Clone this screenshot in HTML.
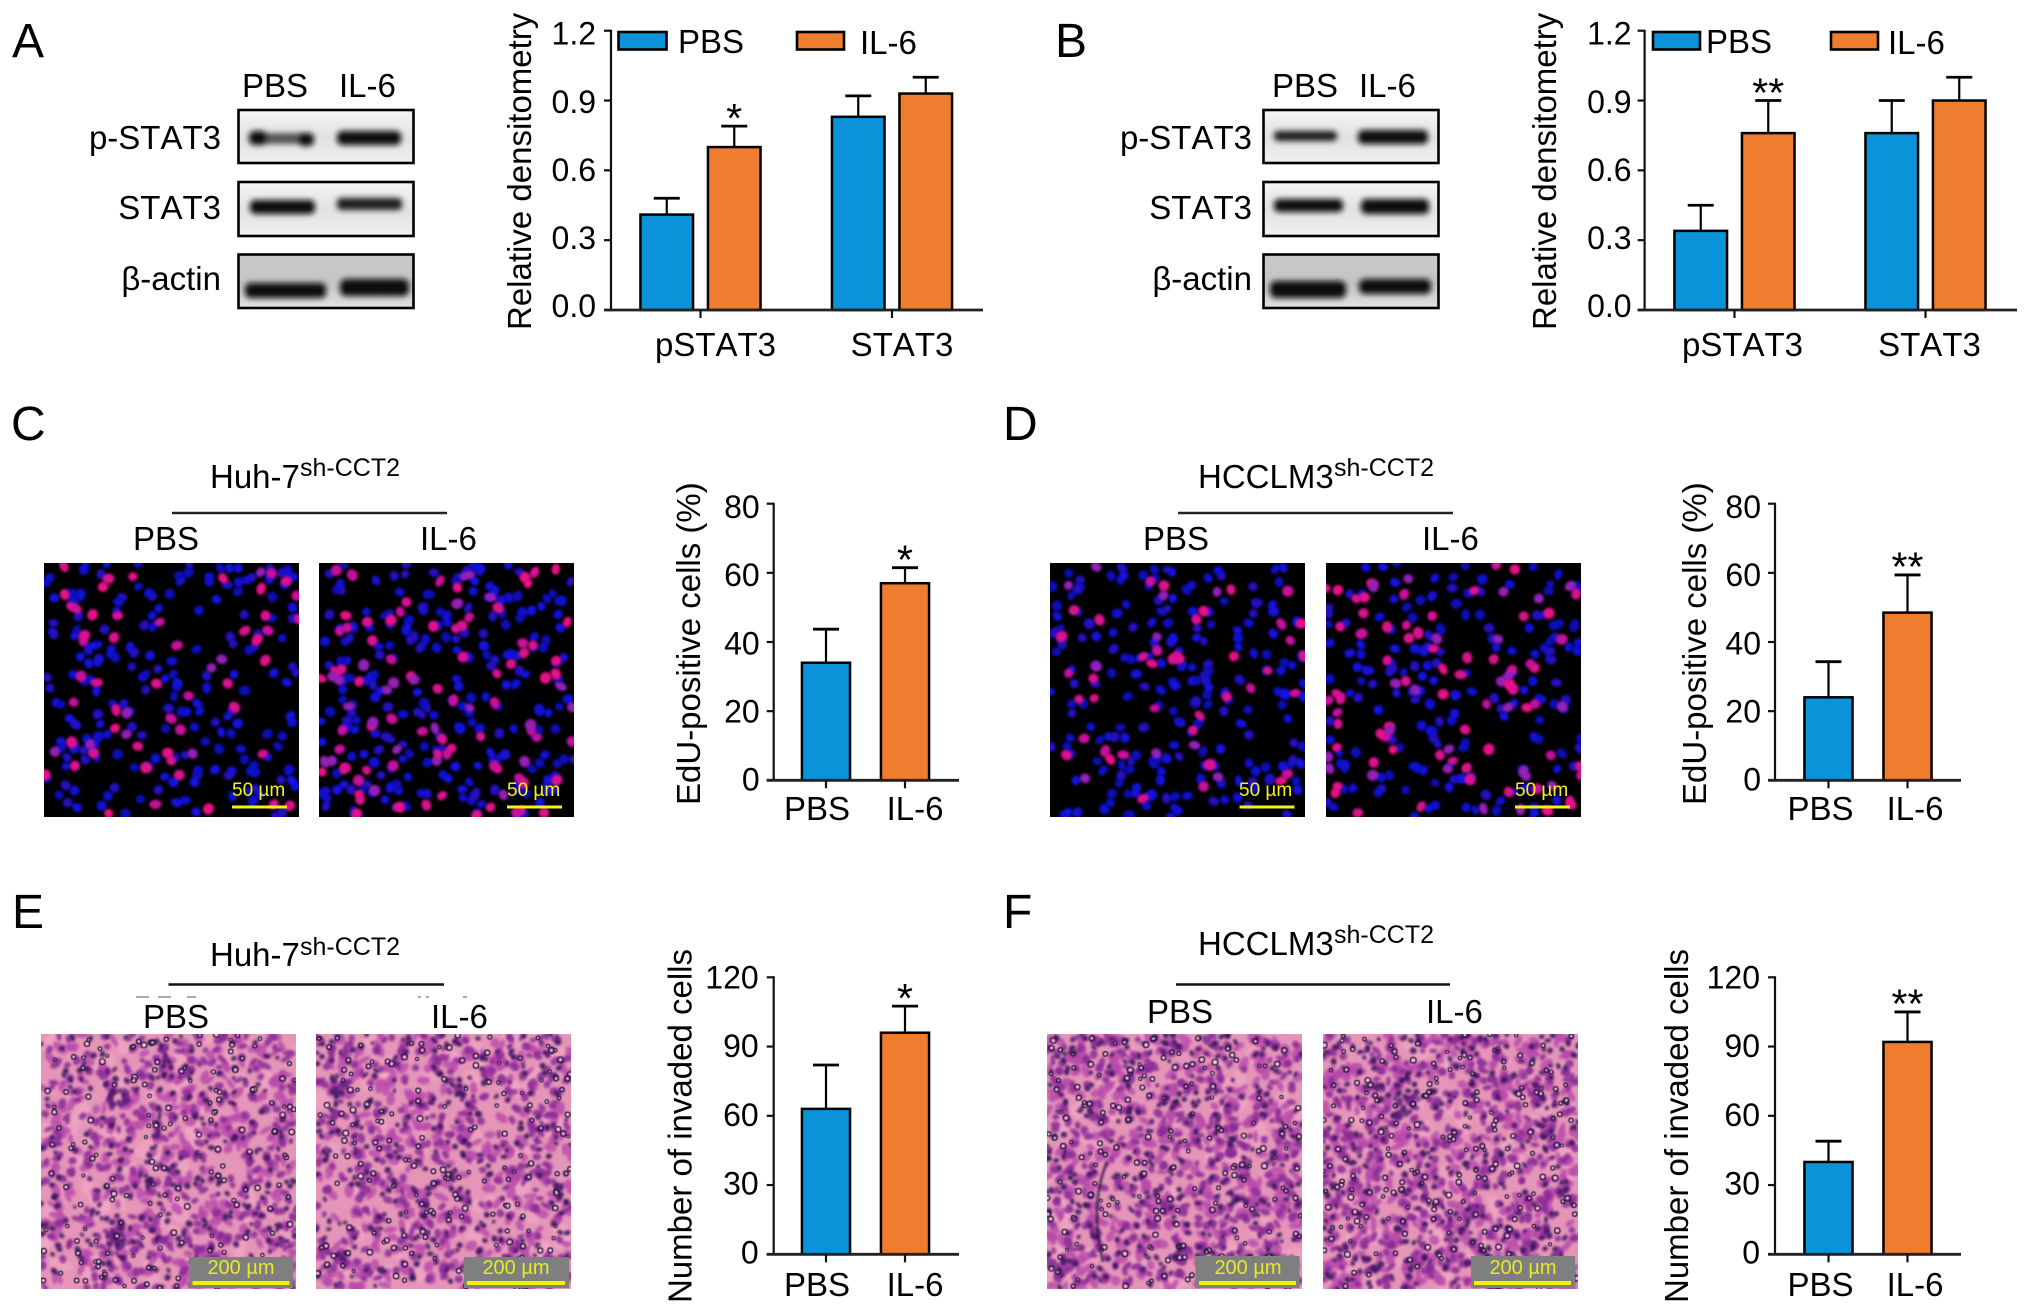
<!DOCTYPE html>
<html lang="en">
<head>
<meta charset="utf-8">
<title>IL-6 western blot, EdU and invasion panels</title>
<style>
html,body{margin:0;padding:0;background:#fff;width:2032px;height:1315px;overflow:hidden}
#stage{position:relative;width:2032px;height:1315px}
canvas{position:absolute;display:block}
svg{position:absolute;left:0;top:0}
text{font-family:"Liberation Sans",Arial,sans-serif;fill:#000;font-size:33px;font-kerning:none}
.letter{font-size:48px}
.sup{font-size:25px}
.scale{font-size:19px;fill:#f4f21a}
.scale2{font-size:20px;fill:#e8e82a}
.blot{stroke:#000;stroke-width:2.6}
.band{fill:#0c0c0c}
</style>
</head>
<body>
<div id="stage">
<canvas class="fluor" data-seed="11" data-blue="200" data-mag="60" width="255" height="254" style="left:44px;top:563px"></canvas>
<canvas class="fluor" data-seed="23" data-blue="235" data-mag="100" width="255" height="254" style="left:319px;top:563px"></canvas>
<canvas class="fluor" data-seed="37" data-blue="210" data-mag="52" width="255" height="254" style="left:1050px;top:563px"></canvas>
<canvas class="fluor" data-seed="41" data-blue="170" data-mag="92" width="255" height="254" style="left:1326px;top:563px"></canvas>
<canvas class="histo" data-seed="53" data-dark="1" width="255" height="255" style="left:41px;top:1034px"></canvas>
<canvas class="histo" data-seed="67" data-dark="1.05" width="255" height="255" style="left:316px;top:1034px"></canvas>
<canvas class="histo" data-seed="71" data-dark="1.2" width="255" height="255" style="left:1047px;top:1034px"></canvas>
<canvas class="histo" data-seed="83" data-dark="1.3" width="255" height="255" style="left:1323px;top:1034px"></canvas>

<svg id="fig" width="2032" height="1315" viewBox="0 0 2032 1315" xmlns="http://www.w3.org/2000/svg">
<defs>
<filter id="soft" x="-30%" y="-100%" width="160%" height="300%"><feGaussianBlur stdDeviation="2.9"/></filter>
<linearGradient id="bgLight" x1="0" y1="0" x2="0" y2="1"><stop offset="0" stop-color="#f6f6f6"/><stop offset="0.5" stop-color="#e2e2e2"/><stop offset="1" stop-color="#f0f0f0"/></linearGradient>
<linearGradient id="bgGray" x1="0" y1="0" x2="0" y2="1"><stop offset="0" stop-color="#cacaca"/><stop offset="0.55" stop-color="#c4c4c4"/><stop offset="1" stop-color="#e2e2e2"/></linearGradient>
</defs>

<text class="letter" x="12" y="57">A</text>
<text class="letter" x="1055" y="57">B</text>
<text class="letter" x="11" y="440">C</text>
<text class="letter" x="1003" y="440">D</text>
<text class="letter" x="12" y="928">E</text>
<text class="letter" x="1003" y="928">F</text>

<g>
<text x="242" y="97">PBS</text>
<text x="339" y="97">IL-6</text>
<text x="221" y="149" text-anchor="end">p-STAT3</text>
<text x="221" y="219" text-anchor="end">STAT3</text>
<text x="221" y="290" text-anchor="end">β-actin</text>
<g>
<rect class="blot" x="238.5" y="110" width="175" height="53" fill="url(#bgLight)"/>
<g filter="url(#soft)">
<rect x="258" y="133" width="46" height="11" fill="#555"/><rect class="band" x="249" y="131" width="18" height="14" rx="5"/><rect class="band" x="298" y="133" width="16" height="13" rx="5"/>
<rect class="band" x="337" y="131" width="64" height="14" rx="5"/></g></g>
<g>
<rect class="blot" x="238.5" y="182" width="175" height="54" fill="url(#bgLight)"/>
<g filter="url(#soft)">
<rect class="band" x="250" y="200" width="65" height="14" rx="5"/>
<rect x="337" y="198" width="65" height="12" rx="4" fill="#1c1c1c"/></g></g>
<g>
<rect class="blot" x="238.5" y="254.5" width="175" height="53.5" fill="url(#bgGray)"/>
<g filter="url(#soft)">
<rect class="band" x="245" y="283" width="81" height="15" rx="5"/>
<rect class="band" x="340" y="279" width="69" height="17" rx="6"/></g></g>
</g>

<g>
<text x="1272" y="97">PBS</text>
<text x="1359" y="97">IL-6</text>
<text x="1252" y="149" text-anchor="end">p-STAT3</text>
<text x="1252" y="219" text-anchor="end">STAT3</text>
<text x="1252" y="290" text-anchor="end">β-actin</text>
<g>
<rect class="blot" x="1263.5" y="110" width="175" height="53" fill="url(#bgLight)"/>
<g filter="url(#soft)">
<rect x="1274" y="131" width="63" height="10" rx="4" fill="#1c1c1c"/>
<rect class="band" x="1358" y="130" width="70" height="14" rx="5"/></g></g>
<g>
<rect class="blot" x="1263.5" y="182" width="175" height="54" fill="url(#bgLight)"/>
<g filter="url(#soft)">
<rect class="band" x="1274" y="199" width="69" height="13" rx="5"/>
<rect class="band" x="1361" y="199" width="68" height="15" rx="5"/></g></g>
<g>
<rect class="blot" x="1263.5" y="254.5" width="175" height="53.5" fill="url(#bgGray)"/>
<g filter="url(#soft)">
<rect class="band" x="1270" y="281" width="76" height="17" rx="6"/>
<rect class="band" x="1359" y="279" width="72" height="15" rx="6"/></g></g>
</g>

<g>
<rect x="618.5" y="32" width="48" height="17.5" fill="#0a93d8" stroke="#000" stroke-width="2.6"/>
<text x="678" y="53">PBS</text>
<rect x="797" y="32" width="47" height="17.5" fill="#ef7d2f" stroke="#000" stroke-width="2.6"/>
<text x="860" y="54">IL-6</text>
</g>
<g>
<rect x="1653" y="32" width="47" height="17.5" fill="#0a93d8" stroke="#000" stroke-width="2.6"/>
<text x="1706" y="53">PBS</text>
<rect x="1831" y="32" width="47" height="17.5" fill="#ef7d2f" stroke="#000" stroke-width="2.6"/>
<text x="1888" y="54">IL-6</text>
</g>

<g>
<text x="210" y="488">Huh-7</text>
<text class="sup" x="300" y="476">sh-CCT2</text>
<line x1="172" y1="513" x2="447" y2="513" stroke="#222" stroke-width="2.6"/>
<text x="133" y="550">PBS</text>
<text x="420" y="550">IL-6</text>
</g>
<g>
<text x="1198" y="488">HCCLM3</text>
<text class="sup" x="1334" y="476">sh-CCT2</text>
<line x1="1178" y1="513" x2="1453" y2="513" stroke="#222" stroke-width="2.6"/>
<text x="1143" y="550">PBS</text>
<text x="1422" y="550">IL-6</text>
</g>
<g>
<text x="210" y="966">Huh-7</text>
<text class="sup" x="300" y="955">sh-CCT2</text>
<line x1="168.5" y1="984.5" x2="444" y2="984.5" stroke="#111" stroke-width="2.6"/>
<g fill="#aaa"><rect x="136" y="996" width="13" height="2"/><rect x="158" y="996" width="13" height="2"/><rect x="187" y="996" width="9" height="2"/><rect x="418" y="996" width="3" height="2"/><rect x="426" y="996" width="3" height="2"/><rect x="463" y="996" width="4" height="2"/></g>
<text x="143" y="1028">PBS</text>
<text x="431" y="1028">IL-6</text>
</g>
<g>
<text x="1198" y="955">HCCLM3</text>
<text class="sup" x="1334" y="943">sh-CCT2</text>
<line x1="1176" y1="984.5" x2="1450" y2="984.5" stroke="#111" stroke-width="2.6"/>
<text x="1147" y="1023">PBS</text>
<text x="1426" y="1023">IL-6</text>
</g>

<g>
<text class="scale" x="232" y="796">50 µm</text><rect x="232" y="805.5" width="55" height="3" fill="#f4f21a"/>
<text class="scale" x="507" y="796">50 µm</text><rect x="507" y="805.5" width="55" height="3" fill="#f4f21a"/>
<text class="scale" x="1239" y="796">50 µm</text><rect x="1239.5" y="805.5" width="55" height="3" fill="#f4f21a"/>
<text class="scale" x="1515" y="796">50 µm</text><rect x="1515" y="805.5" width="55" height="3" fill="#f4f21a"/>
</g>
<g>
<rect x="189" y="1257" width="104" height="31" fill="#7f7f7f"/><text class="scale2" x="241" y="1274" text-anchor="middle">200 µm</text><rect x="192.5" y="1281" width="97" height="4" fill="#f0f000"/>
<rect x="464" y="1257" width="105" height="31" fill="#7f7f7f"/><text class="scale2" x="516" y="1274" text-anchor="middle">200 µm</text><rect x="467" y="1281" width="98" height="4" fill="#f0f000"/>
<rect x="1195.5" y="1256" width="104" height="32" fill="#7f7f7f"/><text class="scale2" x="1248" y="1274" text-anchor="middle">200 µm</text><rect x="1199" y="1281" width="97" height="4" fill="#f0f000"/>
<rect x="1471" y="1256" width="104" height="32" fill="#7f7f7f"/><text class="scale2" x="1523" y="1274" text-anchor="middle">200 µm</text><rect x="1474" y="1281" width="97" height="4" fill="#f0f000"/>
</g>
<g id="charts"></g>
</svg>
</div>

<script>
// ---- Chart data ----
const densityTicks = [0, 0.3, 0.6, 0.9, 1.2];
const densityTickLabels = ['0.0', '0.3', '0.6', '0.9', '1.2'];
const eduTicks = [0, 20, 40, 60, 80];
const eduTickLabels = ['0', '20', '40', '60', '80'];
const invadedTicks = [0, 30, 60, 90, 120];
const invadedTickLabels = ['0', '30', '60', '90', '120'];

const categoriesA = ['pSTAT3', 'STAT3'];
const pbsA = [0.41, 0.83];
const il6A = [0.70, 0.93];
const pbsUpperA = [0.48, 0.92];
const il6UpperA = [0.79, 1.00];
const il6StarsA = ['*', ''];

const categoriesB = ['pSTAT3', 'STAT3'];
const pbsB = [0.34, 0.76];
const il6B = [0.76, 0.90];
const pbsUpperB = [0.45, 0.90];
const il6UpperB = [0.90, 1.00];
const il6StarsB = ['**', ''];

const categoriesC = ['PBS', 'IL-6'];
const valuesC = [34, 57];
const upperC = [43.7, 61.5];
const starsC = ['', '*'];

const categoriesD = ['PBS', 'IL-6'];
const valuesD = [24, 48.5];
const upperD = [34.3, 59.4];
const starsD = ['', '**'];

const categoriesE = ['PBS', 'IL-6'];
const valuesE = [63, 96];
const upperE = [82, 107.5];
const starsE = ['', '*'];

const categoriesF = ['PBS', 'IL-6'];
const valuesF = [40, 92];
const upperF = [49, 105];
const starsF = ['', '**'];

const BLUE = '#0a93d8';
const ORANGE = '#ef7d2f';
const NS = 'http://www.w3.org/2000/svg';
const chartsRoot = document.getElementById('charts');

function mk(parent, tag, attrs, txt) {
  const el = document.createElementNS(NS, tag);
  for (const k in attrs) el.setAttribute(k, attrs[k]);
  if (txt !== undefined) el.textContent = txt;
  parent.appendChild(el);
  return el;
}

function drawChart(c) {
  const g = mk(chartsRoot, 'g', {});
  
  

  const yScale = v => c.yBase - (v / c.ticks[c.ticks.length - 1]) * (c.yBase - c.yTop);
  const xScale = i => c.x0 + c.step * i;
  const n = c.series.length;

  // bars and error bars
  c.categories.forEach((cat, i) => {
    c.series.forEach((s, j) => {
      const cx = xScale(i) + (j - (n - 1) / 2) * c.barStep;
      const yv = yScale(s.values[i]);
      const yu = yScale(s.upper[i]);
      const color = s.colors[i];
      const errLine = mk(g, 'line', {x1: cx, x2: cx, y1: yv, y2: yu, stroke: '#000', 'stroke-width': 2.2});
      
      
      const cap = mk(g, 'line', {x1: cx - 13, x2: cx + 13, y1: yu, y2: yu, stroke: '#000', 'stroke-width': 2.8});
      
      
      const bar = mk(g, 'rect', {x: cx - c.barW / 2 + 1.2, y: yv, width: c.barW - 2.4, height: c.yBase - yv, fill: color, stroke: '#000', 'stroke-width': 2.5});
      
      
      if (s.stars[i]) {
        const star = mk(g, 'text', {x: cx, y: yu - 18 + 0.58 * 41, 'text-anchor': 'middle', style: 'font-size:41px'}, s.stars[i]);
        
        
      }
    });
  });

  // y axis
  const yAxis = mk(g, 'line', {x1: c.axisX, x2: c.axisX, y1: c.yTop - 1, y2: c.yBase, stroke: '#111', 'stroke-width': 2.2});
  
  
  c.ticks.forEach((t, i) => {
    const y = yScale(t);
    const tick = mk(g, 'line', {x1: c.axisX - 7, x2: c.axisX, y1: y, y2: y, stroke: '#111', 'stroke-width': 2.2});
    
    
    const f = i / (c.ticks.length - 1);
    const lab = mk(g, 'text', {x: c.axisX - c.tickGap, y: y + c.tickDy[0] + (c.tickDy[1] - c.tickDy[0]) * f, 'text-anchor': 'end', style: 'font-size:32px'}, c.tickLabels[i]);
    
    
  });

  // x axis
  const xAxis = mk(g, 'line', {x1: c.axisX - 7, x2: c.xEnd, y1: c.yBase, y2: c.yBase, stroke: '#222', 'stroke-width': 2.8});
  
  
  c.categories.forEach((cat, i) => {
    const x = xScale(i);
    const tick = mk(g, 'line', {x1: x, x2: x, y1: c.yBase, y2: c.yBase + 8, stroke: '#111', 'stroke-width': 2.2});
    
    
    const lab = mk(g, 'text', {x: x + c.labelDx[i], y: c.labelY, 'text-anchor': 'middle'}, cat);
    
    
  });

  // y title
  const title = mk(g, 'text', {x: c.titleX, y: c.titleY, transform: 'rotate(-90 ' + c.titleX + ' ' + c.titleY + ')'}, c.title);
  
  
}

drawChart({id: 'a', title: 'Relative densitometry', categories: categoriesA, ticks: densityTicks, tickLabels: densityTickLabels,
  axisX: 611, xEnd: 983, yTop: 30.7, yBase: 310, x0: 700.5, step: 191.5, barW: 55, barStep: 67.5, tickGap: 15, tickDy: [7, 14], labelDx: [15, 10], labelY: 356, titleX: 531, titleY: 330,
  series: [{name: 'pbs', values: pbsA, upper: pbsUpperA, stars: ['', ''], colors: [BLUE, BLUE]}, {name: 'il6', values: il6A, upper: il6UpperA, stars: il6StarsA, colors: [ORANGE, ORANGE]}]});
drawChart({id: 'b', title: 'Relative densitometry', categories: categoriesB, ticks: densityTicks, tickLabels: densityTickLabels,
  axisX: 1644.6, xEnd: 2017, yTop: 30.7, yBase: 310, x0: 1734.5, step: 191, barW: 55, barStep: 67.5, tickGap: 13, tickDy: [7, 14], labelDx: [8, 4], labelY: 356, titleX: 1556, titleY: 330,
  series: [{name: 'pbs', values: pbsB, upper: pbsUpperB, stars: ['', ''], colors: [BLUE, BLUE]}, {name: 'il6', values: il6B, upper: il6UpperB, stars: il6StarsB, colors: [ORANGE, ORANGE]}]});
drawChart({id: 'c', title: 'EdU-positive cells (%)', categories: categoriesC, ticks: eduTicks, tickLabels: eduTickLabels,
  axisX: 773.7, xEnd: 959, yTop: 503.7, yBase: 780.3, x0: 826, step: 79, barW: 50.5, barStep: 0, tickGap: 14, tickDy: [10, 14.5], labelDx: [-9, 10], labelY: 820, titleX: 700, titleY: 805,
  series: [{name: 'edu', values: valuesC, upper: upperC, stars: starsC, colors: [BLUE, ORANGE]}]});
drawChart({id: 'd', title: 'EdU-positive cells (%)', categories: categoriesD, ticks: eduTicks, tickLabels: eduTickLabels,
  axisX: 1775, xEnd: 1961, yTop: 503.7, yBase: 780.3, x0: 1828.5, step: 79, barW: 50.5, barStep: 0, tickGap: 14, tickDy: [10, 14.5], labelDx: [-8, 7.5], labelY: 820, titleX: 1706, titleY: 805,
  series: [{name: 'edu', values: valuesD, upper: upperD, stars: starsD, colors: [BLUE, ORANGE]}]});
drawChart({id: 'e', title: 'Number of invaded cells', categories: categoriesE, ticks: invadedTicks, tickLabels: invadedTickLabels,
  axisX: 773.7, xEnd: 959, yTop: 977.3, yBase: 1254.3, x0: 826, step: 79, barW: 50.5, barStep: 0, tickGap: 15, tickDy: [9, 11], labelDx: [-9, 10], labelY: 1296, titleX: 691.5, titleY: 1303,
  series: [{name: 'invaded', values: valuesE, upper: upperE, stars: starsE, colors: [BLUE, ORANGE]}]});
drawChart({id: 'f', title: 'Number of invaded cells', categories: categoriesF, ticks: invadedTicks, tickLabels: invadedTickLabels,
  axisX: 1775, xEnd: 1961, yTop: 977.3, yBase: 1254.3, x0: 1828.5, step: 79, barW: 50.5, barStep: 0, tickGap: 15, tickDy: [9, 11], labelDx: [-8, 7.5], labelY: 1296, titleX: 1688, titleY: 1303,
  series: [{name: 'invaded', values: valuesF, upper: upperF, stars: starsF, colors: [BLUE, ORANGE]}]});

// ---- Micrograph textures (decorative, seeded) ----
function prng(seed) {
  let a = seed * 2654435761 >>> 0;
  return function () {
    a = (a + 0x6D2B79F5) >>> 0;
    let t = a;
    t = Math.imul(t ^ (t >>> 15), t | 1);
    t ^= t + Math.imul(t ^ (t >>> 7), t | 61);
    return ((t ^ (t >>> 14)) >>> 0) / 4294967296;
  };
}
function fluor(cv) {
  const ctx = cv.getContext('2d');
  const r = prng(+cv.dataset.seed);
  const W = cv.width, H = cv.height;
  ctx.fillStyle = '#000';
  ctx.fillRect(0, 0, W, H);
  ctx.filter = 'blur(1.2px)';
  const dot = (col, size) => {
    const x = r() * W, y = r() * H;
    ctx.fillStyle = col;
    ctx.beginPath();
    ctx.ellipse(x, y, size * (0.75 + r() * 0.3), size * (0.85 + r() * 0.3), r() * 3, 0, 7);
    ctx.fill();
  };
  const blues = ['#1010d0', '#0e0eb8', '#1612dc', '#2410c0'];
  for (let i = 0; i < +cv.dataset.blue; i++) dot(blues[Math.floor(r() * 4)], 5);
  const mags = ['#dc1094', '#d8148c', '#e81088', '#9420b8', '#c8109c'];
  for (let i = 0; i < +cv.dataset.mag; i++) dot(mags[Math.floor(r() * 5)], 5.4);
  ctx.filter = 'none';
}
// Darker landmarks visible in the invasion micrographs, in canvas pixels.
function histoLandmarks(ctx, seed, r) {
  const patch = (x, y, a, b) => {
    for (let i = 0; i < 22; i++) {
      ctx.globalAlpha = 0.75;
      ctx.fillStyle = i % 2 ? '#4a1a68' : '#6a2488';
      ctx.beginPath();
      ctx.ellipse(x + (r() - 0.5) * a * 2, y + (r() - 0.5) * b * 2, 3, 2.5, r() * 3, 0, 7);
      ctx.fill();
    }
  };
  if (seed === 53) { patch(79, 63, 11, 8); patch(76, 203, 9, 17); }
  if (seed === 67) { patch(24, 56, 8, 14); }
  if (seed === 71) {
    ctx.globalAlpha = 0.9;
    ctx.strokeStyle = '#1c0c30';
    ctx.lineWidth = 2.2;
    ctx.beginPath();
    ctx.moveTo(60, 128);
    ctx.quadraticCurveTo(42, 170, 56, 228);
    ctx.stroke();
  }
  if (seed === 83) { patch(84, 72, 12, 11); }
}
function histo(cv) {
  const ctx = cv.getContext('2d');
  const seed = +cv.dataset.seed;
  const r = prng(seed);
  const k = +cv.dataset.dark;
  const W = cv.width, H = cv.height;
  ctx.fillStyle = '#e596b8';
  ctx.fillRect(0, 0, W, H);
  ctx.filter = 'blur(0.8px)';
  const blob = (col, a, b, alpha) => {
    ctx.globalAlpha = alpha;
    ctx.fillStyle = col;
    ctx.beginPath();
    ctx.ellipse(r() * W, r() * H, a * (0.7 + r() * 0.7), b * (0.7 + r() * 0.7), r() * 3.14, 0, 7);
    ctx.fill();
  };
  for (let i = 0; i < 60; i++) blob('#f2aac4', 10, 7, 0.6);
  for (let i = 0; i < 320 * k; i++) blob('#b848ac', 6, 3.4, 0.8);
  for (let i = 0; i < 340 * k; i++) blob('#8a2c98', 4, 3, 0.85);
  for (let i = 0; i < 280 * k; i++) blob('#3f1660', 2.6, 2.3, 0.9);
  histoLandmarks(ctx, seed, r);
  ctx.filter = 'none';
  ctx.globalAlpha = 1;
  for (let i = 0; i < 170 * k; i++) {
    const x = r() * W, y = r() * H, s = 1.5 + r() * 1.5;
    ctx.strokeStyle = '#2a1640';
    ctx.lineWidth = 1.2;
    ctx.beginPath();
    ctx.arc(x, y, s, 0, 7);
    ctx.stroke();
    ctx.fillStyle = '#e8dce8';
    ctx.beginPath();
    ctx.arc(x, y, s * 0.4, 0, 7);
    ctx.fill();
  }
}
document.querySelectorAll('canvas.fluor').forEach(fluor);
document.querySelectorAll('canvas.histo').forEach(histo);
</script>
</body>
</html>
